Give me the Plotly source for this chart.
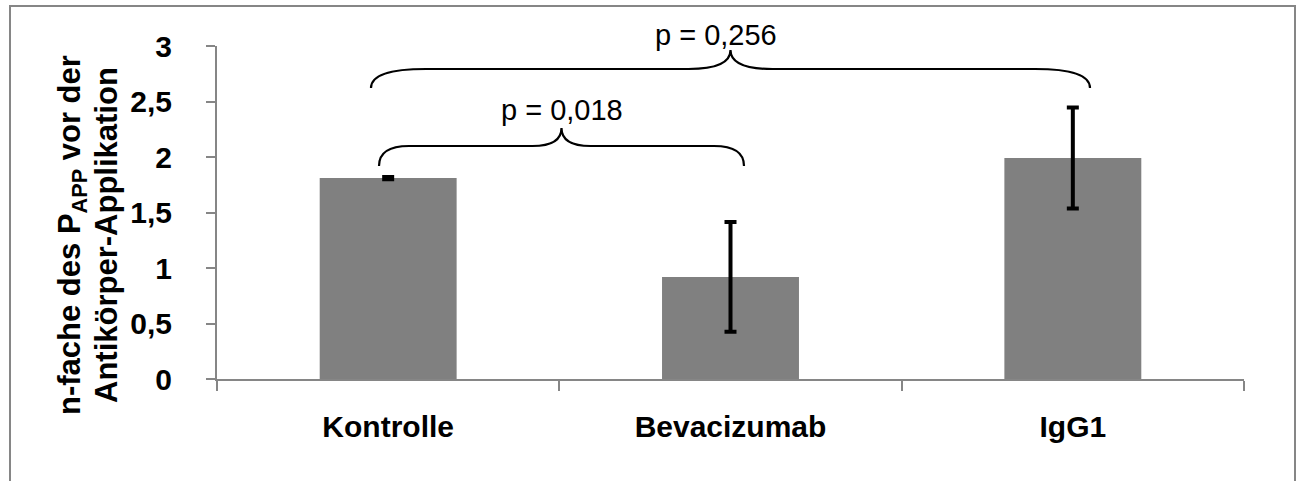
import plotly.graph_objects as go

# Data
categories = ["Kontrolle", "Bevacizumab", "IgG1"]
values = [1.81, 0.92, 1.99]
errors = [0.01, 0.495, 0.455]
y_ticks = [0, 0.5, 1, 1.5, 2, 2.5, 3]
p_labels = ["p = 0,018", "p = 0,256"]

W, H = 1301, 481
plot_l, plot_r, plot_t, plot_b = 217, 1244, 46, 379
font_family = "Arial, Liberation Sans, sans-serif"
axis_grey = "#868686"


def px_to_paper_x(px):
    return (px - plot_l) / (plot_r - plot_l)


def py_to_paper_y(py):
    return (plot_b - py) / (plot_b - plot_t)


def brace_path(x0, x1, y_end, y_flat, y_peak, r_end, r_mid):
    # curly brace given in screen pixels, converted to paper coordinates
    xm = (x0 + x1) / 2

    def p(x, y):
        return f"{px_to_paper_x(x):.5f},{py_to_paper_y(y):.5f}"
    path = (
        f"M {p(x0, y_end)} "
        f"Q {p(x0, y_flat)} {p(x0 + r_end, y_flat)} "
        f"L {p(xm - r_mid, y_flat)} "
        f"Q {p(xm, y_flat)} {p(xm, y_peak)} "
        f"Q {p(xm, y_flat)} {p(xm + r_mid, y_flat)} "
        f"L {p(x1 - r_end, y_flat)} "
        f"Q {p(x1, y_flat)} {p(x1, y_end)}"
    )
    return path


fig = go.Figure()

fig.add_trace(go.Bar(
    x=categories,
    y=values,
    marker=dict(color="#808080", line=dict(width=0)),
    error_y=dict(type="data", array=errors, visible=True,
                 color="black", thickness=4, width=6),
    showlegend=False,
))

shapes = [
    # outer frame of the chart area
    dict(type="rect", xref="paper", yref="paper",
         x0=px_to_paper_x(10), x1=px_to_paper_x(1295),
         y0=py_to_paper_y(520), y1=py_to_paper_y(6),
         line=dict(color=axis_grey, width=2), layer="below"),
    # braces
    dict(type="path", xref="paper", yref="paper",
         path=brace_path(379, 744, 166, 146, 128, 30, 29),
         line=dict(color="black", width=2.2)),
    dict(type="path", xref="paper", yref="paper",
         path=brace_path(371, 1090, 88, 69, 50, 55, 42),
         line=dict(color="black", width=2.2)),
]

text_font = dict(size=29, color="black", family=font_family)
title_font = dict(size=31, color="black", family=font_family)
annotations = [
    dict(text=p_labels[0], xref="paper", yref="paper",
         x=px_to_paper_x(562), y=py_to_paper_y(110),
         xanchor="center", yanchor="middle",
         showarrow=False, font=text_font),
    dict(text=p_labels[1], xref="paper", yref="paper",
         x=px_to_paper_x(716), y=py_to_paper_y(35),
         xanchor="center", yanchor="middle",
         showarrow=False, font=text_font),
    # y axis title, two lines
    dict(text="<b>n-fache des P<sub>APP</sub> vor der</b>", xref="paper", yref="paper",
         x=px_to_paper_x(72), y=py_to_paper_y(235), textangle=-90,
         xanchor="center", yanchor="middle",
         showarrow=False, font=title_font),
    dict(text="<b>Antikörper-Applikation</b>", xref="paper", yref="paper",
         x=px_to_paper_x(106), y=py_to_paper_y(235), textangle=-90,
         xanchor="center", yanchor="middle",
         showarrow=False, font=title_font),
]

fig.update_layout(
    width=W, height=H,
    margin=dict(l=plot_l, r=W - plot_r, t=plot_t, b=H - plot_b, pad=0),
    paper_bgcolor="white",
    plot_bgcolor="white",
    bargap=0.6,
    separators=", ",
    shapes=shapes,
    annotations=annotations,
    xaxis=dict(
        type="category",
        showline=True, linecolor=axis_grey, linewidth=2,
        ticks="outside", tickson="boundaries", ticklen=10,
        tickcolor=axis_grey, tickwidth=2,
        ticklabelstandoff=20,
        tickfont=dict(size=30, color="black", family=font_family, weight="bold"),
        showgrid=False, zeroline=False,
    ),
    yaxis=dict(
        range=[0, 3],
        tickvals=y_ticks,
        showline=True, linecolor=axis_grey, linewidth=2,
        ticks="outside", ticklen=9, tickcolor=axis_grey, tickwidth=2,
        ticklabelstandoff=28,
        tickfont=dict(size=30, color="black", family=font_family, weight="bold"),
        showgrid=False, zeroline=False,
    ),
)

# drop the default page margin so the figure sits at the window's top left corner
fig.write_html(
    "out.html",
    config={"displayModeBar": False},
    post_script="document.body.style.margin='0';document.body.style.overflow='hidden';",
)
